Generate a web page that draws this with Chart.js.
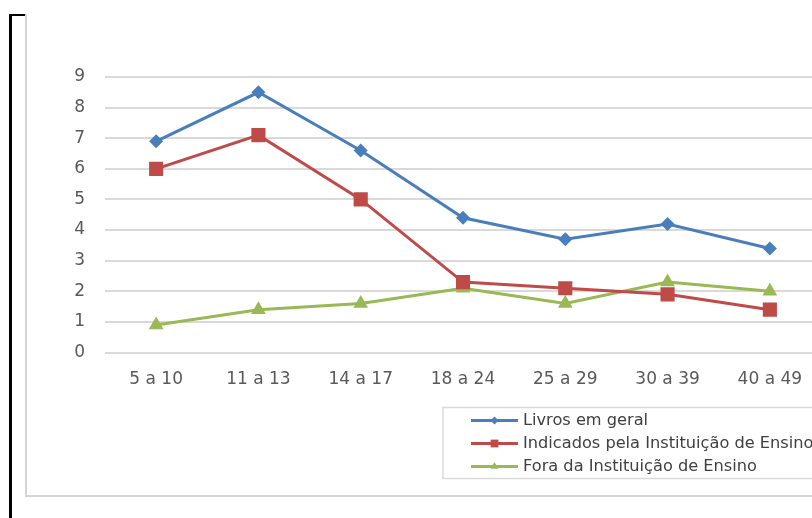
<!DOCTYPE html>
<html>
<head>
<meta charset="utf-8">
<script src="https://cdn.jsdelivr.net/npm/chart.js@4/dist/chart.umd.min.js"></script>
<style>
  html, body { margin: 0; padding: 0; background: #fff; overflow: hidden; width: 812px; height: 518px; }
  #wrap { position: relative; width: 812px; height: 518px; overflow: hidden; }
  #c { position: absolute; left: 0; top: 0; }
  .ln { position: absolute; }
</style>
</head>
<body>
<div id="wrap">
  <canvas id="c" width="840" height="518"></canvas>
  <div class="ln" style="left:9px;top:14px;width:3px;height:504px;background:#000"></div>
  <div class="ln" style="left:9px;top:14px;width:17px;height:2px;background:#000"></div>
  <div class="ln" style="left:25px;top:14px;width:2px;height:483px;background:#d4d4d4"></div>
  <div class="ln" style="left:25px;top:495px;width:800px;height:2px;background:#d4d4d4"></div>
</div>
<script>
const categories = ["5 a 10", "11 a 13", "14 a 17", "18 a 24", "25 a 29", "30 a 39", "40 a 49"];
const seriesNames = ["Livros em geral", "Indicados pela Instituição de Ensino", "Fora da Instituição de Ensino"];
const livrosEmGeral = [6.9, 8.5, 6.6, 4.4, 3.7, 4.2, 3.4];
const indicados = [6.0, 7.1, 5.0, 2.3, 2.1, 1.9, 1.4];
const fora = [0.9, 1.4, 1.6, 2.1, 1.6, 2.3, 2.0];
const yTicks = [0, 1, 2, 3, 4, 5, 6, 7, 8, 9];

const colors = ["#4A7EBB", "#BE4B48", "#98B954"];
const styles = ["rectRot", "rect", "triangle"];
const radii = [7, 10, 8.5];

function shape(ctx, style, x, y, r) {
  ctx.beginPath();
  if (style === "rectRot") {
    ctx.moveTo(x - r, y); ctx.lineTo(x, y - r); ctx.lineTo(x + r, y); ctx.lineTo(x, y + r);
  } else if (style === "rect") {
    const s = r * Math.SQRT1_2;
    ctx.rect(x - s, y - s, 2 * s, 2 * s);
  } else {
    ctx.moveTo(x, y - r);
    ctx.lineTo(x + r * Math.sin(2 * Math.PI / 3), y - r * Math.cos(2 * Math.PI / 3));
    ctx.lineTo(x + r * Math.sin(4 * Math.PI / 3), y - r * Math.cos(4 * Math.PI / 3));
  }
  ctx.closePath();
  ctx.fill();
}

const legendPlugin = {
  id: "boxLegend",
  afterDraw(chart) {
    const ctx = chart.ctx;
    ctx.save();
    ctx.strokeStyle = "#d9d9d9";
    ctx.lineWidth = 1.5;
    ctx.strokeRect(443, 407.5, 420, 71);
    ctx.font = "16.2px 'DejaVu Sans'";
    ctx.textBaseline = "middle";
    ctx.textAlign = "left";
    const ys = [420.5, 443.5, 466.5];
    chart.data.datasets.forEach((ds, i) => {
      const y = ys[i];
      ctx.strokeStyle = ds.borderColor;
      ctx.lineWidth = 3;
      ctx.beginPath(); ctx.moveTo(471, y); ctx.lineTo(518, y); ctx.stroke();
      ctx.fillStyle = ds.borderColor;
      shape(ctx, ds.pointStyle, 494.5, y, [4, 5.5, 4.5][i]);
      ctx.fillStyle = "#404040";
      ctx.fillText(ds.label, 523, y + 0.5);
    });
    ctx.restore();
  }
};

const dataSeries = [livrosEmGeral, indicados, fora];

new Chart(document.getElementById("c"), {
  type: "line",
  data: {
    labels: categories,
    datasets: dataSeries.map((d, i) => ({
      label: seriesNames[i],
      data: d,
      borderColor: colors[i],
      backgroundColor: colors[i],
      pointBackgroundColor: colors[i],
      pointBorderColor: colors[i],
      pointBorderWidth: 0,
      borderWidth: 3,
      pointStyle: styles[i],
      pointRadius: radii[i],
      tension: 0,
      fill: false
    }))
  },
  options: {
    responsive: false,
    animation: false,
    devicePixelRatio: 1,
    layout: { padding: { left: 0, right: 19, top: 77, bottom: 0 } },
    plugins: { legend: { display: false }, tooltip: { enabled: false } },
    scales: {
      x: {
        offset: true,
        grid: { display: false, drawTicks: false },
        border: { display: false },
        ticks: { color: "#595959", font: { family: "DejaVu Sans", size: 17 }, padding: 17, maxRotation: 0, autoSkip: false },
        afterFit(s) { s.height = 165.5; }
      },
      y: {
        min: 0, max: 9,
        afterBuildTicks(s) { s.ticks = yTicks.map(v => ({ value: v })); },
        grid: { color: "#d9d9d9", lineWidth: 2, drawTicks: false },
        border: { display: false },
        ticks: { color: "#595959", font: { family: "DejaVu Sans", size: 17 }, padding: 20 },
        afterFit(s) { s.width = 105; }
      }
    }
  },
  plugins: [legendPlugin]
});
</script>
</body>
</html>
